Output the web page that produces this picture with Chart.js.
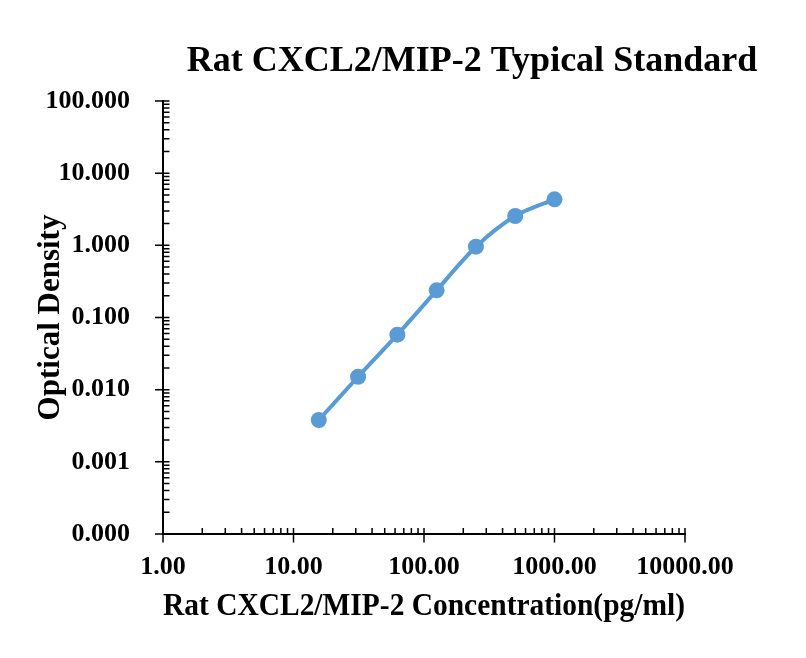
<!DOCTYPE html>
<html>
<head>
<meta charset="utf-8">
<script src="https://cdn.jsdelivr.net/npm/chart.js@4.4.1/dist/chart.umd.min.js"></script>
<style>
  html, body { margin: 0; padding: 0; background: #fff; }
  canvas { display: block; }
</style>
</head>
<body>
<canvas id="std-chart" width="806" height="658"></canvas>
<script>
// standard curve data
const concentrations = [15.625, 31.25, 62.5, 125, 250, 500, 1000];
const opticalDensity = [0.0038, 0.0151, 0.0578, 0.238, 0.957, 2.55, 4.34];

const xDecades = [1, 10, 100, 1000, 10000];
const yDecades = [0.0001, 0.001, 0.01, 0.1, 1, 10, 100];

const TITLE = "Rat CXCL2/MIP-2 Typical Standard";
const X_TITLE = "Rat CXCL2/MIP-2 Concentration(pg/ml)";
const Y_TITLE = "Optical Density";

const SERIF = '"Liberation Serif", "Times New Roman", Times, serif';
const BLUE = "#5B9BD5";

function minorsOf(decades) {
  const out = [];
  for (let i = 0; i < decades.length - 1; i++) {
    for (let m = 2; m <= 9; m++) out.push(decades[i] * m);
  }
  return out;
}

// chart title (centred over the whole picture like the Excel original)
const titlePlugin = {
  id: "bigTitle",
  afterDraw(chart) {
    const ctx = chart.ctx;
    ctx.save();
    ctx.font = "bold 36px " + SERIF;
    ctx.fillStyle = "#000";
    ctx.textAlign = "center";
    ctx.textBaseline = "alphabetic";
    ctx.fillText(TITLE, 472, 71);
    ctx.restore();
  },
};

// excel style tick marks: majors cross the axis, minors inside
const tickPlugin = {
  id: "excelTicks",
  afterDraw(chart) {
    const ctx = chart.ctx;
    const xs = chart.scales.x;
    const ys = chart.scales.y;
    const area = chart.chartArea;
    ctx.save();
    ctx.strokeStyle = "#000";
    ctx.lineWidth = 1.5;
    ctx.beginPath();
    yDecades.forEach((v) => {
      const p = ys.getPixelForValue(v);
      ctx.moveTo(area.left - 8, p);
      ctx.lineTo(area.left + 6.5, p);
    });
    minorsOf(yDecades).forEach((v) => {
      const p = ys.getPixelForValue(v);
      ctx.moveTo(area.left, p);
      ctx.lineTo(area.left + 6.5, p);
    });
    xDecades.forEach((v) => {
      const p = xs.getPixelForValue(v);
      ctx.moveTo(p, area.bottom + 8.5);
      ctx.lineTo(p, area.bottom - 6);
    });
    minorsOf(xDecades).forEach((v) => {
      const p = xs.getPixelForValue(v);
      ctx.moveTo(p, area.bottom);
      ctx.lineTo(p, area.bottom - 6);
    });
    ctx.stroke();
    ctx.restore();
  },
};

const ctx = document.getElementById("std-chart");

new Chart(ctx, {
  type: "scatter",
  data: {
    datasets: [
      {
        label: "Standard",
        data: concentrations.map((c, i) => ({ x: c, y: opticalDensity[i] })),
        showLine: true,
        borderColor: BLUE,
        backgroundColor: BLUE,
        borderWidth: 4,
        tension: 0.3,
        pointRadius: 8,
        pointHoverRadius: 8,
        pointBorderWidth: 0,
      },
    ],
  },
  options: {
    responsive: false,
    animation: false,
    layout: {
      padding: { top: 101, right: 121, bottom: 0, left: 0 },
    },
    plugins: {
      legend: { display: false },
      title: { display: false },
      tooltip: { enabled: false },
    },
    scales: {
      x: {
        type: "logarithmic",
        min: 1,
        max: 10000,
        afterBuildTicks: (scale) => {
          scale.ticks = xDecades.map((v) => ({ value: v }));
        },
        afterFit: (scale) => {
          scale.height = 124;
        },
        ticks: {
          padding: 18,
          color: "#000",
          font: { family: SERIF, size: 26, weight: "bold" },
          callback: (v) => Number(v).toFixed(2),
          maxRotation: 0,
          autoSkip: false,
        },
        grid: { drawOnChartArea: false, drawTicks: false, color: "rgba(0,0,0,0)" },
        border: { display: true, color: "#000", width: 2 },
        title: {
          display: true,
          text: X_TITLE,
          color: "#000",
          font: { family: SERIF, size: 31, weight: "bold" },
          padding: { top: 0, bottom: 32 },
        },
      },
      y: {
        type: "logarithmic",
        min: 0.0001,
        max: 100,
        afterBuildTicks: (scale) => {
          scale.ticks = yDecades.map((v) => ({ value: v }));
        },
        afterFit: (scale) => {
          scale.width = 163;
        },
        ticks: {
          padding: 33,
          color: "#000",
          font: { family: SERIF, size: 26, weight: "bold" },
          callback: (v) => Number(v).toFixed(3),
          autoSkip: false,
        },
        grid: { drawOnChartArea: false, drawTicks: false, color: "rgba(0,0,0,0)" },
        border: { display: true, color: "#000", width: 2 },
        title: {
          display: true,
          text: Y_TITLE,
          color: "#000",
          font: { family: SERIF, size: 31, weight: "bold" },
          padding: { top: 32, bottom: 0 },
        },
      },
    },
  },
  plugins: [titlePlugin, tickPlugin],
});
</script>
</body>
</html>
